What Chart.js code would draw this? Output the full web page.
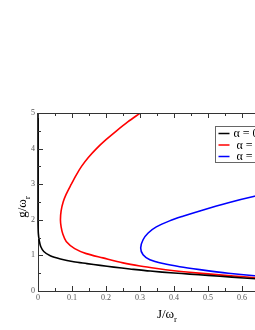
<!DOCTYPE html>
<html>
<head>
<meta charset="utf-8">
<script src="https://cdn.jsdelivr.net/npm/chart.js@4.4.1/dist/chart.umd.min.js"></script>
<style>
  html, body { margin: 0; padding: 0; background: #fff; overflow: hidden; }
  #wrap { width: 255px; height: 330px; overflow: hidden; }
</style>
</head>
<body>
<div id="wrap"><canvas id="chart" width="320" height="330"></canvas></div>
<script>
// phase boundaries
const blackJ = [0, 0, 0, 0, 0.001, 0.004, 0.008, 0.017, 0.036, 0.066, 0.105, 0.144, 0.183, 0.223, 0.27, 0.33, 0.4, 0.446, 0.5, 0.57, 0.64, 0.7, 0.75];
const blackG = [5, 4, 3, 2, 1.62, 1.4, 1.25, 1.11, 0.99, 0.9, 0.82, 0.77, 0.72, 0.67, 0.62, 0.56, 0.505, 0.475, 0.44, 0.39, 0.345, 0.315, 0.29];

const redJ = [0.301, 0.264, 0.231, 0.2, 0.172, 0.148, 0.128, 0.112, 0.098, 0.083, 0.074, 0.068, 0.066, 0.068, 0.073, 0.083, 0.108, 0.142, 0.191, 0.25, 0.3, 0.35, 0.4, 0.446, 0.5, 0.55, 0.64, 0.7, 0.75];
const redG = [5, 4.75, 4.5, 4.25, 4.0, 3.75, 3.5, 3.25, 3.0, 2.72, 2.5, 2.25, 2.0, 1.8, 1.6, 1.39, 1.19, 1.05, 0.93, 0.79, 0.7, 0.63, 0.57, 0.525, 0.48, 0.44, 0.37, 0.34, 0.32];

const blueJ = [0.75, 0.7, 0.637, 0.56, 0.476, 0.426, 0.387, 0.348, 0.324, 0.309, 0.302, 0.309, 0.329, 0.368, 0.417, 0.476, 0.56, 0.637, 0.7, 0.75];
const blueG = [2.86, 2.78, 2.66, 2.48, 2.25, 2.1, 1.97, 1.8, 1.63, 1.44, 1.21, 1.02, 0.88, 0.77, 0.68, 0.6, 0.5, 0.43, 0.39, 0.36];

const seriesLabels = ["α = 0", " α = 0.5", " α = 1"];
const seriesColors = ["#000000", "#ff0000", "#0000ff"];

const xTicks = [0, 0.1, 0.2, 0.3, 0.4, 0.5, 0.6, 0.7];
const yTicks = [0, 1, 2, 3, 4, 5];

const toPoints = (xs, ys) => xs.map((x, i) => ({ x: x, y: ys[i] }));

const serif = "'Liberation Serif', 'DejaVu Serif', serif";
const axisColor = "#333";

// inward tick marks on bottom, top and left
const innerTicks = {
  id: "innerTicks",
  afterDatasetsDraw(chart) {
    const { ctx, chartArea: a, scales } = chart;
    const xs = scales.x, ys = scales.y;
    ctx.save();
    ctx.strokeStyle = axisColor;
    ctx.lineWidth = 1;
    ctx.beginPath();
    // top border
    ctx.moveTo(a.left, a.top + 0.5);
    ctx.lineTo(a.right, a.top + 0.5);
    for (let i = 0; i < xTicks.length; i++) {
      const v = xTicks[i];
      const px = Math.round(xs.getPixelForValue(v)) + 0.5;
      ctx.moveTo(px, a.bottom); ctx.lineTo(px, a.bottom - 5);
      ctx.moveTo(px, a.top); ctx.lineTo(px, a.top + 5);
      const m = Math.round(xs.getPixelForValue(v + 0.05)) + 0.5;
      ctx.moveTo(m, a.bottom); ctx.lineTo(m, a.bottom - 3);
      ctx.moveTo(m, a.top); ctx.lineTo(m, a.top + 3);
    }
    for (let i = 0; i < yTicks.length; i++) {
      const v = yTicks[i];
      const py = Math.round(ys.getPixelForValue(v)) + 0.5;
      ctx.moveTo(a.left, py); ctx.lineTo(a.left + 5, py);
      if (v < 5) {
        const m = Math.round(ys.getPixelForValue(v + 0.5)) + 0.5;
        ctx.moveTo(a.left, m); ctx.lineTo(a.left + 3, m);
      }
    }
    ctx.stroke();
    ctx.restore();
  },
};

// axis titles with subscript r
const axisTitles = {
  id: "axisTitles",
  afterDraw(chart) {
    const { ctx } = chart;
    ctx.save();
    ctx.fillStyle = "#000";
    ctx.textBaseline = "alphabetic";
    // x title
    ctx.font = "13px " + serif;
    const xMain = "J/ω";
    const wMain = ctx.measureText(xMain).width;
    ctx.font = "9px " + serif;
    const wSub = ctx.measureText("r").width;
    let x0 = 167 - (wMain + wSub) / 2;
    ctx.font = "13px " + serif;
    ctx.fillText(xMain, x0, 318);
    ctx.font = "9px " + serif;
    ctx.fillText("r", x0 + wMain, 322);
    // y title, rotated
    ctx.translate(26, 207);
    ctx.rotate(-Math.PI / 2);
    ctx.font = "13px " + serif;
    const yMain = "g/ω";
    const w2 = ctx.measureText(yMain).width;
    x0 = -(w2 + wSub) / 2;
    ctx.fillText(yMain, x0, 0);
    ctx.font = "9px " + serif;
    ctx.fillText("r", x0 + w2, 4);
    ctx.restore();
  },
};

// legend box inside the plot
const boxLegend = {
  id: "boxLegend",
  afterDraw(chart) {
    const { ctx } = chart;
    const bx = 215.5, by = 126.5, bw = 80, bh = 36;
    ctx.save();
    ctx.fillStyle = "#fff";
    ctx.fillRect(bx, by, bw, bh);
    ctx.strokeStyle = "#666";
    ctx.lineWidth = 1;
    ctx.strokeRect(bx, by, bw, bh);
    ctx.font = "12px " + serif;
    ctx.textBaseline = "middle";
    chart.data.datasets.forEach((ds, i) => {
      const y = by + 7 + i * 11.5;
      ctx.strokeStyle = ds.borderColor;
      ctx.lineWidth = 1.5;
      ctx.beginPath();
      ctx.moveTo(bx + 3, y);
      ctx.lineTo(bx + 14, y);
      ctx.stroke();
      ctx.fillStyle = "#000";
      ctx.fillText(ds.label, bx + 18, y + 0.5);
    });
    ctx.restore();
  },
};

new Chart(document.getElementById("chart"), {
  type: "scatter",
  data: {
    datasets: [
      { label: seriesLabels[0], data: toPoints(blackJ, blackG), clip: 3 },
      { label: seriesLabels[1], data: toPoints(redJ, redG) },
      { label: seriesLabels[2], data: toPoints(blueJ, blueG) },
    ].map((d, i) => ({
      ...d,
      showLine: true,
      borderColor: seriesColors[i],
      backgroundColor: seriesColors[i],
      borderWidth: 1.6,
      pointRadius: 0,
      tension: 0.3,
    })),
  },
  options: {
    responsive: false,
    animation: false,
    layout: { padding: { left: 0, top: 113, right: 27, bottom: 0 } },
    plugins: {
      legend: { display: false },
      tooltip: { enabled: false },
    },
    scales: {
      x: {
        type: "linear",
        min: 0,
        max: 0.75,
        afterBuildTicks: (s) => { s.ticks = xTicks.map((v) => ({ value: v })); },
        afterFit: (s) => { s.height = 39; },
        grid: { display: false, drawTicks: false },
        border: { display: true, color: axisColor, width: 1 },
        ticks: {
          color: "#555",
          padding: 2,
          maxRotation: 0,
          font: { family: serif, size: 8 },
          callback: (v) => String(v),
        },
      },
      y: {
        type: "linear",
        min: 0,
        max: 5,
        afterBuildTicks: (s) => { s.ticks = yTicks.map((v) => ({ value: v })); },
        afterFit: (s) => { s.width = 38; },
        grid: { display: false, drawTicks: false },
        border: { display: true, color: axisColor, width: 1 },
        ticks: {
          color: "#555",
          padding: 3,
          font: { family: serif, size: 8 },
          callback: (v) => String(v),
        },
      },
    },
  },
  plugins: [innerTicks, axisTitles, boxLegend],
});
</script>
</body>
</html>
